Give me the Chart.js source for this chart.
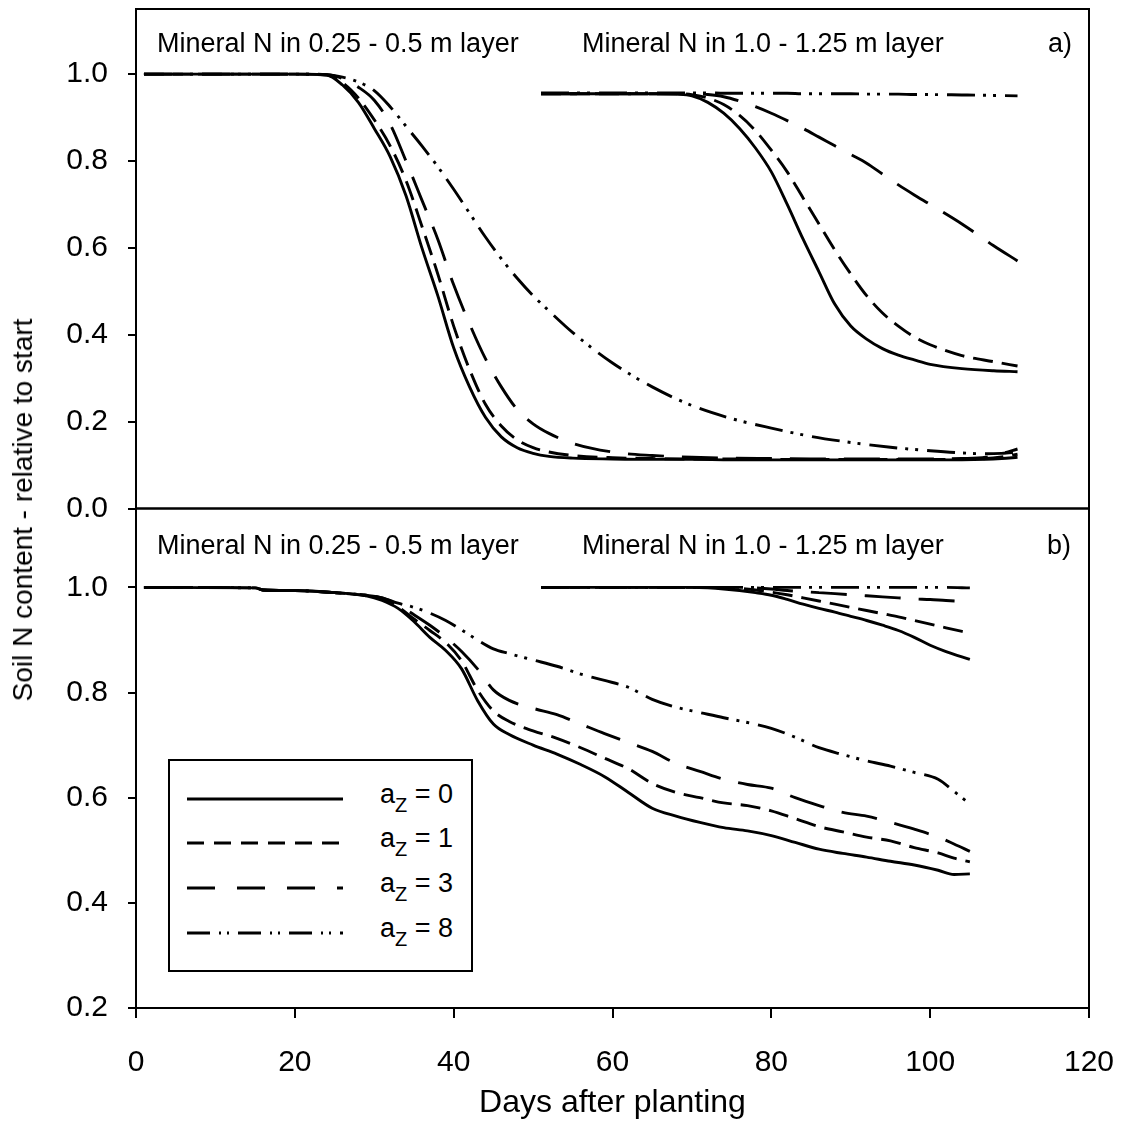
<!DOCTYPE html>
<html>
<head>
<meta charset="utf-8">
<title>Soil N content relative to start</title>
<script src="https://cdn.jsdelivr.net/npm/chart.js@4.4.1/dist/chart.umd.min.js"></script>
<style>
  body { margin: 0; background: #fff; }
  #wrap { position: relative; width: 1121px; height: 1133px; font-family: 'Liberation Sans', Arial, sans-serif; color: #000; }
  #chart { position: absolute; left: 0; top: 0; }
  .note { position: absolute; font-size: 27px; line-height: 27px; white-space: nowrap; }
  #ytitle { position: absolute; left: 23px; top: 510px; font-size: 28px; line-height: 28px; white-space: nowrap;
            transform: translate(-50%, -50%) rotate(-90deg); }
  #legend { position: absolute; left: 168px; top: 759px; width: 305px; height: 213px; box-sizing: border-box;
            border: 2px solid #000; background: #fff; }
  #legend svg { position: absolute; left: 17px; }
  #legend .lab { position: absolute; left: 210px; font-size: 27px; line-height: 27px; white-space: nowrap; }
  #legend sub { font-size: 20px; vertical-align: -9px; line-height: 0; }
</style>
</head>
<body>
<div id="wrap">
  <canvas id="chart" width="1121" height="1133"></canvas>

  <div class="note" style="left:157px; top:30px;">Mineral N in 0.25 - 0.5 m layer</div>
  <div class="note" style="left:582px; top:30px;">Mineral N in 1.0 - 1.25 m layer</div>
  <div class="note" style="left:1048px; top:30px;">a)</div>
  <div class="note" style="left:157px; top:532px;">Mineral N in 0.25 - 0.5 m layer</div>
  <div class="note" style="left:582px; top:532px;">Mineral N in 1.0 - 1.25 m layer</div>
  <div class="note" style="left:1047px; top:532px;">b)</div>

  <div id="ytitle">Soil N content - relative to start</div>

  <div id="legend">
    <svg style="top:34px" width="160" height="8"><line x1="0" y1="4" x2="156" y2="4" stroke="#000" stroke-width="3"/></svg>
    <div class="lab" style="top:20px">a<sub>Z</sub> = 0</div>
    <svg style="top:78px" width="160" height="8"><line x1="0" y1="4" x2="156" y2="4" stroke="#000" stroke-width="3" stroke-dasharray="17 10"/></svg>
    <div class="lab" style="top:64px">a<sub>Z</sub> = 1</div>
    <svg style="top:123px" width="160" height="8"><line x1="0" y1="4" x2="156" y2="4" stroke="#000" stroke-width="3" stroke-dasharray="28 22"/></svg>
    <div class="lab" style="top:109px">a<sub>Z</sub> = 3</div>
    <svg style="top:168px" width="160" height="8"><line x1="0" y1="4" x2="156" y2="4" stroke="#000" stroke-width="3" stroke-dasharray="23 9 2 6 2 9"/></svg>
    <div class="lab" style="top:154px">a<sub>Z</sub> = 8</div>
  </div>
</div>

<script>
// tick values
var xTicks = [0, 20, 40, 60, 80, 100, 120];
var yTicksA = [0.0, 0.2, 0.4, 0.6, 0.8, 1.0];
var yTicksB = [0.2, 0.4, 0.6, 0.8, 1.0];

// a) mineral N in 0.25 - 0.5 m layer
var daysA1 = [1, 10, 20, 24, 26, 28, 30, 32, 34, 36, 38, 40, 42, 44, 46, 48, 50, 52, 55, 60, 65, 70, 75, 80, 85, 90, 95, 100, 104, 107, 109, 111];
var a1_az0 = [1.0, 1.0, 1.0, 0.998, 0.975, 0.935, 0.875, 0.81, 0.72, 0.60, 0.49, 0.37, 0.28, 0.21, 0.165, 0.14, 0.127, 0.12, 0.116, 0.114, 0.113, 0.113, 0.112, 0.112, 0.112, 0.112, 0.112, 0.112, 0.112, 0.113, 0.115, 0.118];
var a1_az1 = [1.0, 1.0, 1.0, 0.998, 0.98, 0.945, 0.895, 0.835, 0.755, 0.65, 0.54, 0.42, 0.32, 0.24, 0.19, 0.158, 0.14, 0.13, 0.122, 0.117, 0.115, 0.114, 0.114, 0.113, 0.113, 0.113, 0.113, 0.113, 0.113, 0.115, 0.119, 0.125];
var a1_az3 = [1.0, 1.0, 1.0, 0.999, 0.99, 0.97, 0.94, 0.885, 0.80, 0.71, 0.62, 0.515, 0.425, 0.345, 0.28, 0.228, 0.195, 0.173, 0.15, 0.13, 0.122, 0.118, 0.116, 0.115, 0.114, 0.114, 0.114, 0.114, 0.115, 0.118, 0.126, 0.137];
var a1_az8 = [1.0, 1.0, 1.0, 0.999, 0.993, 0.982, 0.962, 0.925, 0.88, 0.835, 0.787, 0.735, 0.68, 0.625, 0.575, 0.53, 0.49, 0.455, 0.405, 0.335, 0.28, 0.237, 0.207, 0.185, 0.166, 0.152, 0.141, 0.133, 0.128, 0.126, 0.127, 0.13];

// a) mineral N in 1.0 - 1.25 m layer
var daysA2 = [51, 60, 66, 68, 70, 72, 74, 76, 78, 80, 82, 84, 86, 88, 90, 92, 94, 96, 98, 100, 104, 108, 111];
var a2_az0 = [0.955, 0.955, 0.955, 0.954, 0.95, 0.935, 0.91, 0.875, 0.83, 0.775, 0.70, 0.62, 0.545, 0.47, 0.42, 0.39, 0.368, 0.353, 0.342, 0.332, 0.322, 0.317, 0.315];
var a2_az1 = [0.955, 0.955, 0.955, 0.955, 0.953, 0.945, 0.93, 0.905, 0.87, 0.825, 0.775, 0.715, 0.655, 0.595, 0.54, 0.49, 0.45, 0.42, 0.395, 0.377, 0.352, 0.338, 0.328];
var a2_az3 = [0.955, 0.955, 0.955, 0.955, 0.955, 0.953, 0.948, 0.938, 0.925, 0.91, 0.893, 0.875, 0.855, 0.835, 0.815, 0.795, 0.77, 0.745, 0.722, 0.70, 0.655, 0.605, 0.57];
var a2_az8 = [0.957, 0.957, 0.957, 0.957, 0.957, 0.957, 0.956, 0.956, 0.956, 0.956, 0.956, 0.955, 0.955, 0.955, 0.955, 0.954, 0.954, 0.954, 0.953, 0.953, 0.952, 0.951, 0.95];

// b) mineral N in 0.25 - 0.5 m layer
var daysB1 = [1, 15, 16, 20, 25, 29, 31, 33, 35, 37, 39, 41, 43, 45, 47, 50, 53, 56, 59, 62, 65, 68, 71, 74, 77, 80, 83, 86, 89, 92, 95, 98, 101, 103, 105];
var b1_az0 = [1.0, 0.999, 0.995, 0.994, 0.99, 0.984, 0.975, 0.96, 0.935, 0.905, 0.88, 0.845, 0.785, 0.74, 0.72, 0.70, 0.683, 0.663, 0.64, 0.61, 0.58, 0.565, 0.553, 0.543, 0.537, 0.528, 0.515, 0.502, 0.494, 0.487, 0.479, 0.472, 0.462, 0.454, 0.455];
var b1_az1 = [1.0, 0.999, 0.995, 0.994, 0.99, 0.984, 0.978, 0.963, 0.94, 0.918, 0.895, 0.86, 0.805, 0.765, 0.745, 0.727, 0.713, 0.695, 0.675, 0.655, 0.627, 0.61, 0.60, 0.59, 0.585, 0.575, 0.56, 0.545, 0.535, 0.525, 0.518, 0.505, 0.495, 0.485, 0.478];
var b1_az3 = [1.0, 0.999, 0.995, 0.994, 0.99, 0.985, 0.98, 0.967, 0.948, 0.928, 0.905, 0.878, 0.845, 0.805, 0.785, 0.77, 0.758, 0.74, 0.722, 0.705, 0.688, 0.665, 0.65, 0.635, 0.625, 0.618, 0.60, 0.585, 0.572, 0.565, 0.553, 0.54, 0.525, 0.512, 0.498];
var b1_az8 = [1.0, 0.999, 0.995, 0.994, 0.99, 0.985, 0.98, 0.97, 0.962, 0.951, 0.937, 0.919, 0.90, 0.883, 0.874, 0.862, 0.85, 0.835, 0.823, 0.81, 0.787, 0.772, 0.762, 0.752, 0.743, 0.732, 0.715, 0.695, 0.682, 0.67, 0.66, 0.648, 0.635, 0.612, 0.588];

// b) mineral N in 1.0 - 1.25 m layer
var daysB2 = [51, 60, 70, 72, 74, 76, 78, 80, 82, 84, 86, 88, 90, 92, 94, 96, 98, 100, 102, 105];
var b2_az0 = [1.0, 1.0, 1.0, 0.999, 0.997, 0.994, 0.99, 0.985, 0.977, 0.968, 0.96, 0.953, 0.945, 0.937, 0.928, 0.918, 0.905, 0.89, 0.878, 0.863];
var b2_az1 = [1.0, 1.0, 1.0, 1.0, 0.999, 0.998, 0.995, 0.991, 0.986, 0.98, 0.974, 0.968, 0.962, 0.956, 0.95, 0.944, 0.937, 0.93, 0.923, 0.913];
var b2_az3 = [1.0, 1.0, 1.0, 1.0, 1.0, 1.0, 0.999, 0.997, 0.994, 0.992, 0.99, 0.988, 0.986, 0.984, 0.982, 0.98, 0.978, 0.977, 0.975, 0.973];
var b2_az8 = [1.0, 1.0, 1.0, 1.0, 1.0, 1.0, 1.0, 1.0, 1.0, 1.0, 1.0, 1.0, 1.0, 1.0, 1.0, 1.0, 1.0, 1.0, 1.0, 0.999];

// line pattern for a_z = 0, 1, 3, 8
var dashes = [[], [20, 9], [36, 18], [28, 8, 3, 7, 3, 9]];

function series(days, values, axis, k) {
    var points = [];
    for (var i = 0; i < days.length; i++) {
        points.push({ x: days[i], y: values[i] });
    }
    return {
        data: points,
        yAxisID: axis,
        borderColor: '#000',
        borderWidth: 2.9,
        borderDash: dashes[k],
        borderCapStyle: 'butt',
        pointRadius: 0,
        fill: false,
        cubicInterpolationMode: 'monotone'
    };
}

var datasets = [
    series(daysA1, a1_az8, 'ya', 3), series(daysA1, a1_az3, 'ya', 2), series(daysA1, a1_az1, 'ya', 1), series(daysA1, a1_az0, 'ya', 0),
    series(daysA2, a2_az8, 'ya', 3), series(daysA2, a2_az3, 'ya', 2), series(daysA2, a2_az1, 'ya', 1), series(daysA2, a2_az0, 'ya', 0),
    series(daysB1, b1_az8, 'yb', 3), series(daysB1, b1_az3, 'yb', 2), series(daysB1, b1_az1, 'yb', 1), series(daysB1, b1_az0, 'yb', 0),
    series(daysB2, b2_az8, 'yb', 3), series(daysB2, b2_az3, 'yb', 2), series(daysB2, b2_az1, 'yb', 1), series(daysB2, b2_az0, 'yb', 0)
];

// box round each panel
var frames = {
    id: 'frames',
    afterDraw: function(chart) {
        var ctx = chart.ctx, area = chart.chartArea;
        ctx.save();
        ctx.strokeStyle = '#000';
        ctx.lineWidth = 2;
        ['ya', 'yb'].forEach(function(id) {
            var s = chart.scales[id];
            ctx.strokeRect(area.left, s.top, area.right - area.left, s.bottom - s.top);
        });
        ctx.restore();
    }
};

Chart.defaults.font.family = "'Liberation Sans', Arial, sans-serif";
Chart.defaults.color = '#000';

function noPadding(s) {
    s.paddingTop = 0;
    s.paddingBottom = 0;
    s.paddingLeft = 0;
    s.paddingRight = 0;
}

function yScale(min, ticks) {
    return {
        type: 'linear',
        position: 'left',
        stack: 'panels',
        stackWeight: 1,
        min: min,
        max: 1.15,
        afterBuildTicks: function(s) { s.ticks = ticks.map(function(v) { return { value: v }; }); },
        afterFit: function(s) { s.width = 136; noPadding(s); },
        ticks: { font: { size: 30 }, padding: 20, autoSkip: false, callback: function(v) { return v.toFixed(1); } },
        grid: { drawOnChartArea: false, drawTicks: true, tickLength: 8, color: '#000', lineWidth: 2 },
        border: { display: false }
    };
}

new Chart(document.getElementById('chart'), {
    type: 'line',
    data: { datasets: datasets },
    options: {
        responsive: false,
        animation: false,
        devicePixelRatio: 1,
        events: [],
        layout: { padding: { top: 9, right: 32, left: 0, bottom: 0 } },
        plugins: { legend: { display: false }, tooltip: { enabled: false } },
        scales: {
            x: {
                type: 'linear',
                position: 'bottom',
                min: 0,
                max: 120,
                afterBuildTicks: function(s) { s.ticks = xTicks.map(function(v) { return { value: v }; }); },
                afterFit: function(s) { s.height = 125; noPadding(s); },
                ticks: { font: { size: 30 }, padding: 27, maxRotation: 0, autoSkip: false },
                grid: { drawOnChartArea: false, drawTicks: true, tickLength: 10, color: '#000', lineWidth: 2 },
                border: { display: false },
                title: { display: true, text: 'Days after planting', font: { size: 32 }, padding: { top: 0, bottom: 11 } }
            },
            yb: yScale(0.2, yTicksB),
            ya: yScale(0, yTicksA)
        }
    },
    plugins: [frames]
});
</script>
</body>
</html>
